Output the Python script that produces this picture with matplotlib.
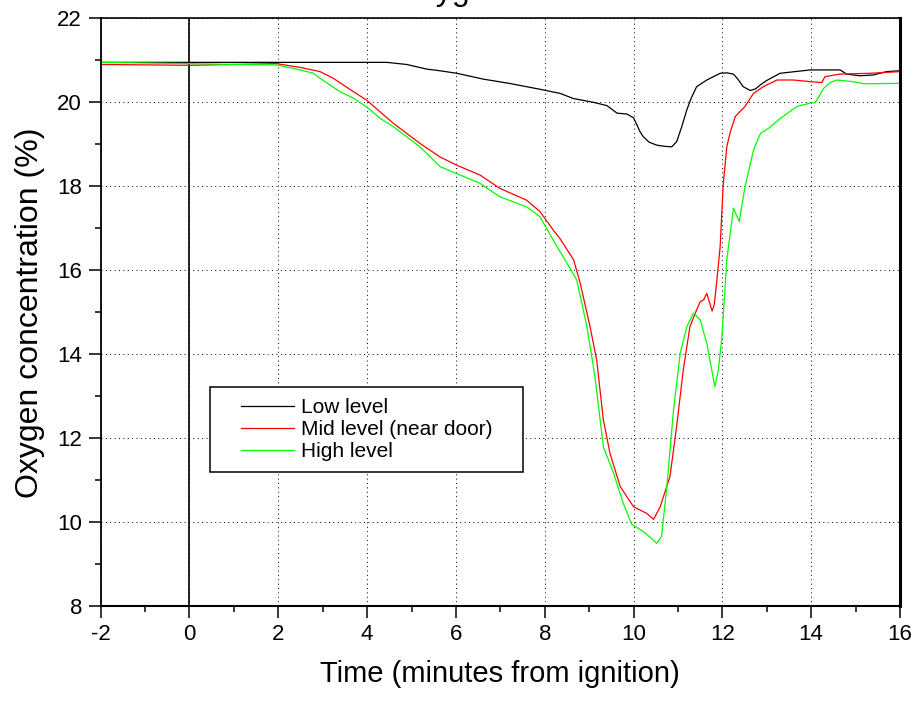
import matplotlib
matplotlib.use("Agg")
import matplotlib.pyplot as plt
from matplotlib.lines import Line2D
from matplotlib.legend_handler import HandlerLine2D
from matplotlib.ticker import MultipleLocator

# Oxygen readings, minutes relative to ignition
low_t = [-2, 0, 2, 4, 4.44, 4.89, 5.34, 5.64, 6.02, 6.62, 7.2, 7.89, 8.35, 8.64,
         9.09, 9.4, 9.63, 9.85, 10.0, 10.15, 10.22, 10.35, 10.52, 10.7, 10.86,
         10.97, 11.08, 11.2, 11.3, 11.42, 11.65, 11.95, 12.1, 12.25, 12.35, 12.47,
         12.63, 12.75, 12.85, 13.0, 13.3, 13.98, 14.65, 14.8, 15.1, 15.4, 15.7, 16]
low_o2 = [20.95, 20.95, 20.95, 20.95, 20.95, 20.90, 20.79, 20.75, 20.69, 20.55,
          20.45, 20.31, 20.21, 20.09, 20.0, 19.92, 19.74, 19.72, 19.63, 19.29,
          19.18, 19.05, 18.98, 18.95, 18.94, 19.06, 19.4, 19.82, 20.1, 20.37,
          20.53, 20.69, 20.7, 20.67, 20.55, 20.37, 20.28, 20.32, 20.41, 20.52,
          20.69, 20.77, 20.77, 20.67, 20.63, 20.65, 20.73, 20.75]

mid_t = [-2, 0, 1, 1.96, 2.49, 2.94, 3.24, 3.61, 3.99, 4.59, 5.19, 5.64, 6.0,
         6.54, 6.99, 7.59, 7.89, 8.19, 8.34, 8.65, 8.8, 9.02, 9.17, 9.32, 9.47,
         9.7, 10.0, 10.3, 10.45, 10.6, 10.82, 10.97, 11.12, 11.27, 11.39, 11.5,
         11.58, 11.65, 11.72, 11.77, 11.82, 11.87, 11.95, 12.02, 12.1, 12.17,
         12.29, 12.51, 12.7, 12.92, 13.23, 13.6, 13.98, 14.24, 14.31, 14.65,
         15.33, 16]
mid_o2 = [20.9, 20.88, 20.9, 20.92, 20.83, 20.73, 20.57, 20.31, 20.05, 19.5,
          19.02, 18.70, 18.51, 18.27, 17.95, 17.67, 17.40, 16.96, 16.76, 16.25,
          15.69, 14.66, 13.86, 12.44, 11.64, 10.85, 10.37, 10.21, 10.07, 10.37,
          11.09, 12.28, 13.63, 14.66, 14.98, 15.25, 15.3, 15.45, 15.2, 15.03,
          15.2, 15.7, 16.56, 18.05, 18.94, 19.26, 19.66, 19.90, 20.21, 20.37,
          20.53, 20.53, 20.49, 20.47, 20.61, 20.67, 20.69, 20.73]

high_t = [-2, 0, 1, 1.96, 2.49, 2.79, 2.94, 3.39, 3.69, 4.0, 4.29, 4.59, 5.19,
          5.64, 6.0, 6.54, 6.99, 7.59, 7.89, 8.19, 8.5, 8.72, 8.95, 9.13, 9.32,
          9.55, 9.77, 9.96, 10.07, 10.22, 10.4, 10.52, 10.63, 10.75, 10.9, 11.05,
          11.2, 11.35, 11.5, 11.65, 11.83, 11.91, 11.99, 12.1, 12.25, 12.38,
          12.51, 12.7, 12.86, 13.04, 13.31, 13.68, 13.98, 14.09, 14.28, 14.43,
          14.58, 14.95, 15.18, 16]
high_o2 = [20.95, 20.92, 20.9, 20.89, 20.77, 20.69, 20.57, 20.25, 20.1, 19.88,
           19.62, 19.42, 18.94, 18.47, 18.31, 18.07, 17.75, 17.51, 17.28, 16.72,
           16.17, 15.77, 14.66, 13.47, 11.8, 11.17, 10.45, 9.95, 9.88, 9.78, 9.62,
           9.5, 9.66, 10.85, 12.67, 14.02, 14.66, 14.98, 14.82, 14.26, 13.23,
           13.63, 14.42, 16.25, 17.48, 17.16, 17.99, 18.86, 19.26, 19.38, 19.62,
           19.90, 19.98, 19.99, 20.33, 20.47, 20.53, 20.49, 20.44, 20.45]

series_labels = ["Low level", "Mid level (near door)", "High level"]


def main():
    plt.rcParams["font.family"] = ["Liberation Sans", "DejaVu Sans"]
    plt.rcParams["axes.unicode_minus"] = False

    fig = plt.figure(figsize=(9.15, 7.02), dpi=100)
    ax = fig.add_axes([0.110, 0.1363, 0.8736, 0.8377])

    ax.plot(low_t, low_o2, color="black", lw=0.9, label=series_labels[0])
    ax.plot(mid_t, mid_o2, color="#ff0000", lw=0.9, label=series_labels[1])
    ax.plot(high_t, high_o2, color="#00ff00", lw=0.9, label=series_labels[2])

    # ignition marker
    ax.axvline(0, color="black", lw=1.2, zorder=1)

    ax.set_xlim(-2, 16)
    ax.set_ylim(8, 22)
    ax.xaxis.set_major_locator(MultipleLocator(2))
    ax.xaxis.set_minor_locator(MultipleLocator(1))
    ax.yaxis.set_major_locator(MultipleLocator(2))
    ax.yaxis.set_minor_locator(MultipleLocator(1))
    ax.grid(True, which="major", color="black", lw=0.7, linestyle=(0, (1, 3.5)))

    ax.tick_params(which="major", direction="out", length=8.5, width=1.1,
                   labelsize=16)
    ax.tick_params(which="minor", direction="out", length=4, width=1.1)
    ax.tick_params(axis="x", pad=4)
    ax.tick_params(axis="y", pad=5)

    ax.spines["left"].set_linewidth(1.3)
    ax.spines["bottom"].set_linewidth(1.5)
    ax.spines["top"].set_linewidth(1.2)
    ax.spines["right"].set_linewidth(2.2)

    ax.set_xlabel("Time (minutes from ignition)", fontsize=21, labelpad=11)
    ax.set_ylabel("Oxygen concentration (%)", fontsize=23, labelpad=9)

    # title sits mostly above the top edge of the figure
    fig.text(395 / 915, 1.0, "Oxygen levels", fontsize=23, ha="left",
             va="baseline")

    leg = ax.legend(loc="upper left", bbox_to_anchor=(0.1368, 0.2, 0.3916, 0.173),
                    mode="expand", borderaxespad=0, fontsize=15, fancybox=False,
                    framealpha=1, edgecolor="black", borderpad=0.55,
                    labelspacing=0.13, handlelength=3.5, handletextpad=0.34,
                    handler_map={Line2D: HandlerLine2D(xpad=0.95)})
    leg.get_frame().set_linewidth(1.1)

    fig.savefig("out.png", dpi=100)


if __name__ == "__main__":
    main()
